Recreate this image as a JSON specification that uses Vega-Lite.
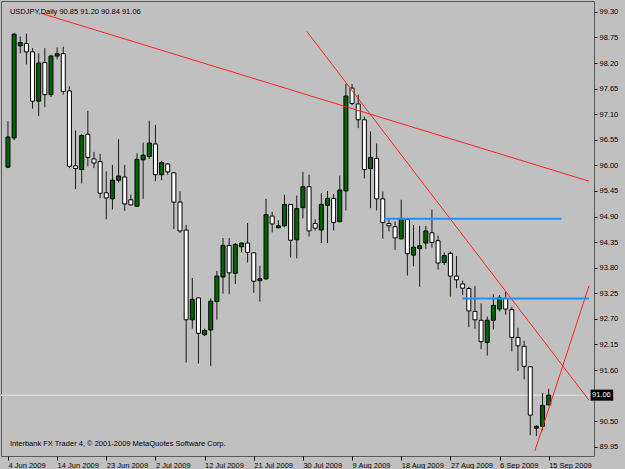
{
  "$schema": "https://vega.github.io/schema/vega-lite/v6.json",
  "width": 593,
  "height": 455,
  "autosize": {"type": "none"},
  "padding": {"left": 1, "top": 1, "right": 31, "bottom": 13},
  "background": "#C0C0C0",
  "config": {
    "view": {"stroke": "#5A5A5A", "strokeWidth": 1},
    "axis": {"labelFont": "Liberation Sans", "labelFontSize": 7.5, "labelColor": "#000000", "tickColor": "#000000", "domain": false, "grid": false, "title": null, "labelOverlap": false}
  },
  "datasets": {
    "candles": [
      {"i": 0, "date": "2009-06-04", "open": 95.96, "high": 96.95, "low": 95.94, "close": 96.61},
      {"i": 1, "date": "2009-06-05", "open": 96.59, "high": 98.85, "low": 96.54, "close": 98.82},
      {"i": 2, "date": "2009-06-07", "open": 98.57, "high": 98.77, "low": 98.41, "close": 98.64},
      {"i": 3, "date": "2009-06-08", "open": 98.62, "high": 98.83, "low": 98.17, "close": 98.44},
      {"i": 4, "date": "2009-06-09", "open": 98.44, "high": 98.52, "low": 97.22, "close": 97.38},
      {"i": 5, "date": "2009-06-10", "open": 97.38, "high": 98.41, "low": 97.06, "close": 98.20},
      {"i": 6, "date": "2009-06-11", "open": 98.21, "high": 98.52, "low": 97.25, "close": 97.52},
      {"i": 7, "date": "2009-06-12", "open": 97.52, "high": 98.38, "low": 97.47, "close": 98.35},
      {"i": 8, "date": "2009-06-14", "open": 98.35, "high": 98.54, "low": 98.28, "close": 98.40},
      {"i": 9, "date": "2009-06-15", "open": 98.40, "high": 98.55, "low": 97.52, "close": 97.59},
      {"i": 10, "date": "2009-06-16", "open": 97.60, "high": 97.70, "low": 95.94, "close": 95.98},
      {"i": 11, "date": "2009-06-17", "open": 95.99, "high": 96.75, "low": 95.49, "close": 95.93},
      {"i": 12, "date": "2009-06-18", "open": 95.91, "high": 96.67, "low": 95.61, "close": 96.64},
      {"i": 13, "date": "2009-06-19", "open": 96.67, "high": 97.17, "low": 95.98, "close": 96.17},
      {"i": 14, "date": "2009-06-21", "open": 96.14, "high": 96.29, "low": 95.94, "close": 96.05},
      {"i": 15, "date": "2009-06-22", "open": 96.08, "high": 96.25, "low": 95.30, "close": 95.40},
      {"i": 16, "date": "2009-06-23", "open": 95.41, "high": 95.87, "low": 94.84, "close": 95.30},
      {"i": 17, "date": "2009-06-24", "open": 95.28, "high": 96.01, "low": 95.05, "close": 95.68},
      {"i": 18, "date": "2009-06-25", "open": 95.68, "high": 96.56, "low": 95.63, "close": 95.77},
      {"i": 19, "date": "2009-06-26", "open": 95.75, "high": 96.01, "low": 95.02, "close": 95.17},
      {"i": 20, "date": "2009-06-28", "open": 95.26, "high": 95.37, "low": 95.14, "close": 95.15},
      {"i": 21, "date": "2009-06-29", "open": 95.12, "high": 96.26, "low": 95.11, "close": 96.13},
      {"i": 22, "date": "2009-06-30", "open": 96.12, "high": 96.49, "low": 95.28, "close": 96.22},
      {"i": 23, "date": "2009-07-01", "open": 96.19, "high": 96.96, "low": 96.14, "close": 96.48},
      {"i": 24, "date": "2009-07-02", "open": 96.46, "high": 96.87, "low": 95.66, "close": 95.80},
      {"i": 25, "date": "2009-07-03", "open": 95.80, "high": 96.10, "low": 95.68, "close": 96.06},
      {"i": 26, "date": "2009-07-05", "open": 96.03, "high": 96.05, "low": 95.80, "close": 95.86},
      {"i": 27, "date": "2009-07-06", "open": 95.84, "high": 95.85, "low": 94.63, "close": 95.21},
      {"i": 28, "date": "2009-07-07", "open": 95.21, "high": 95.44, "low": 94.55, "close": 94.59},
      {"i": 29, "date": "2009-07-08", "open": 94.61, "high": 94.72, "low": 91.76, "close": 92.68},
      {"i": 30, "date": "2009-07-09", "open": 92.68, "high": 93.58, "low": 92.49, "close": 93.12},
      {"i": 31, "date": "2009-07-10", "open": 93.15, "high": 93.16, "low": 91.74, "close": 92.39},
      {"i": 32, "date": "2009-07-12", "open": 92.36, "high": 92.49, "low": 92.33, "close": 92.45},
      {"i": 33, "date": "2009-07-13", "open": 92.46, "high": 93.14, "low": 91.69, "close": 93.08},
      {"i": 34, "date": "2009-07-14", "open": 93.07, "high": 93.73, "low": 92.68, "close": 93.62},
      {"i": 35, "date": "2009-07-15", "open": 93.60, "high": 94.44, "low": 93.24, "close": 94.28},
      {"i": 36, "date": "2009-07-16", "open": 94.28, "high": 94.44, "low": 93.23, "close": 93.69},
      {"i": 37, "date": "2009-07-17", "open": 93.68, "high": 94.33, "low": 93.45, "close": 94.30},
      {"i": 38, "date": "2009-07-19", "open": 94.25, "high": 94.34, "low": 94.13, "close": 94.33},
      {"i": 39, "date": "2009-07-20", "open": 94.33, "high": 94.76, "low": 93.91, "close": 94.13},
      {"i": 40, "date": "2009-07-21", "open": 94.12, "high": 94.13, "low": 93.26, "close": 93.51},
      {"i": 41, "date": "2009-07-22", "open": 93.52, "high": 93.84, "low": 93.07, "close": 93.56},
      {"i": 42, "date": "2009-07-23", "open": 93.56, "high": 95.28, "low": 93.54, "close": 94.94},
      {"i": 43, "date": "2009-07-24", "open": 94.91, "high": 95.00, "low": 94.56, "close": 94.74},
      {"i": 44, "date": "2009-07-26", "open": 94.66, "high": 94.82, "low": 94.64, "close": 94.70},
      {"i": 45, "date": "2009-07-27", "open": 94.70, "high": 95.37, "low": 94.68, "close": 95.16},
      {"i": 46, "date": "2009-07-28", "open": 95.16, "high": 95.17, "low": 94.02, "close": 94.39},
      {"i": 47, "date": "2009-07-29", "open": 94.40, "high": 95.35, "low": 94.00, "close": 95.07},
      {"i": 48, "date": "2009-07-30", "open": 95.09, "high": 95.86, "low": 94.86, "close": 95.54},
      {"i": 49, "date": "2009-07-31", "open": 95.54, "high": 95.80, "low": 94.47, "close": 94.59},
      {"i": 50, "date": "2009-08-02", "open": 94.75, "high": 94.84, "low": 94.60, "close": 94.65},
      {"i": 51, "date": "2009-08-03", "open": 94.61, "high": 95.40, "low": 94.33, "close": 95.16},
      {"i": 52, "date": "2009-08-04", "open": 95.14, "high": 95.45, "low": 94.33, "close": 95.29},
      {"i": 53, "date": "2009-08-05", "open": 95.29, "high": 95.38, "low": 94.60, "close": 94.77},
      {"i": 54, "date": "2009-08-06", "open": 94.79, "high": 95.78, "low": 94.77, "close": 95.47},
      {"i": 55, "date": "2009-08-07", "open": 95.45, "high": 97.75, "low": 95.03, "close": 97.49},
      {"i": 56, "date": "2009-08-09", "open": 97.66, "high": 97.75, "low": 97.29, "close": 97.33},
      {"i": 57, "date": "2009-08-10", "open": 97.32, "high": 97.52, "low": 96.80, "close": 96.98},
      {"i": 58, "date": "2009-08-11", "open": 96.98, "high": 97.05, "low": 95.72, "close": 95.91},
      {"i": 59, "date": "2009-08-12", "open": 95.93, "high": 96.73, "low": 95.08, "close": 96.17},
      {"i": 60, "date": "2009-08-13", "open": 96.15, "high": 96.47, "low": 95.03, "close": 95.28},
      {"i": 61, "date": "2009-08-14", "open": 95.28, "high": 95.44, "low": 94.42, "close": 94.77},
      {"i": 62, "date": "2009-08-16", "open": 94.75, "high": 94.84, "low": 94.58, "close": 94.70},
      {"i": 63, "date": "2009-08-17", "open": 94.68, "high": 94.79, "low": 94.18, "close": 94.44},
      {"i": 64, "date": "2009-08-18", "open": 94.42, "high": 95.26, "low": 94.41, "close": 94.86},
      {"i": 65, "date": "2009-08-19", "open": 94.84, "high": 94.85, "low": 93.63, "close": 94.10},
      {"i": 66, "date": "2009-08-20", "open": 94.07, "high": 94.72, "low": 93.83, "close": 94.24},
      {"i": 67, "date": "2009-08-21", "open": 94.21, "high": 94.70, "low": 93.39, "close": 94.27},
      {"i": 68, "date": "2009-08-23", "open": 94.33, "high": 94.70, "low": 94.21, "close": 94.59},
      {"i": 69, "date": "2009-08-24", "open": 94.55, "high": 95.05, "low": 94.23, "close": 94.34},
      {"i": 70, "date": "2009-08-25", "open": 94.38, "high": 94.49, "low": 93.76, "close": 93.90},
      {"i": 71, "date": "2009-08-26", "open": 93.91, "high": 94.13, "low": 93.86, "close": 94.06},
      {"i": 72, "date": "2009-08-27", "open": 94.11, "high": 94.15, "low": 93.18, "close": 93.62},
      {"i": 73, "date": "2009-08-28", "open": 93.62, "high": 94.05, "low": 93.36, "close": 93.54},
      {"i": 74, "date": "2009-08-30", "open": 93.45, "high": 93.52, "low": 93.21, "close": 93.36},
      {"i": 75, "date": "2009-08-31", "open": 93.35, "high": 93.39, "low": 92.52, "close": 92.87},
      {"i": 76, "date": "2009-09-01", "open": 92.86, "high": 93.41, "low": 92.49, "close": 92.68},
      {"i": 77, "date": "2009-09-02", "open": 92.67, "high": 93.03, "low": 92.05, "close": 92.21},
      {"i": 78, "date": "2009-09-03", "open": 92.19, "high": 92.75, "low": 91.91, "close": 92.67},
      {"i": 79, "date": "2009-09-04", "open": 92.67, "high": 93.23, "low": 92.47, "close": 92.99},
      {"i": 80, "date": "2009-09-06", "open": 92.91, "high": 93.21, "low": 92.86, "close": 93.15},
      {"i": 81, "date": "2009-09-07", "open": 93.14, "high": 93.28, "low": 92.79, "close": 92.91},
      {"i": 82, "date": "2009-09-08", "open": 92.90, "high": 92.96, "low": 92.00, "close": 92.30},
      {"i": 83, "date": "2009-09-09", "open": 92.30, "high": 92.51, "low": 91.58, "close": 92.12},
      {"i": 84, "date": "2009-09-10", "open": 92.11, "high": 92.23, "low": 91.40, "close": 91.68},
      {"i": 85, "date": "2009-09-11", "open": 91.67, "high": 91.68, "low": 90.20, "close": 90.63},
      {"i": 86, "date": "2009-09-13", "open": 90.35, "high": 90.41, "low": 90.18, "close": 90.39},
      {"i": 87, "date": "2009-09-14", "open": 90.39, "high": 91.11, "low": 90.30, "close": 90.84},
      {"i": 88, "date": "2009-09-15", "open": 90.85, "high": 91.20, "low": 90.84, "close": 91.06}
    ],
    "trendlines": [
      {"id": "t1", "i": 5.6, "p": 99.26},
      {"id": "t1", "i": 94.56, "p": 95.66},
      {"id": "t2", "i": 48.64, "p": 98.88},
      {"id": "t2", "i": 94.56, "p": 90.95},
      {"id": "t3", "i": 85.75, "p": 89.86},
      {"id": "t3", "i": 94.56, "p": 93.41}
    ],
    "levels": [
      {"id": "h1", "i": 61.23, "p": 94.85},
      {"id": "h1", "i": 90.08, "p": 94.85},
      {"id": "h2", "i": 73.92, "p": 93.14},
      {"id": "h2", "i": 94.56, "p": 93.14}
    ]
  },
  "layer": [
    {
      "data": {"values": [{"bid": 91.06}]},
      "mark": {"type": "rule", "color": "#D8D8D8", "strokeWidth": 1.5},
      "encoding": {
        "y": {"field": "bid", "type": "quantitative", "scale": {"domain": [89.859, 99.426], "nice": false, "zero": false}}
      }
    },
    {
      "data": {"name": "candles"},
      "mark": {"type": "rule", "color": "#1A1A1A", "strokeWidth": 1},
      "encoding": {
        "x": {"field": "i", "type": "quantitative", "scale": {"domain": [-0.32, 94.56], "nice": false, "zero": false},
          "axis": {"orient": "bottom", "values": [0, 8, 16, 24, 32, 40, 48, 56, 64, 72, 80, 88], "tickCount": 40, "labelAlign": "left", "tickSize": 4, "labelPadding": 1, "labelOverlap": false, "labelBound": false,
            "labelExpr": "['4 Jun 2009','14 Jun 2009','23 Jun 2009','2 Jul 2009','12 Jul 2009','21 Jul 2009','30 Jul 2009','9 Aug 2009','18 Aug 2009','27 Aug 2009','6 Sep 2009','15 Sep 2009'][round(datum.value / 8)]"}},
        "y": {"field": "low", "type": "quantitative", "scale": {"domain": [89.859, 99.426], "nice": false, "zero": false},
          "axis": {"orient": "right", "values": [99.30, 98.75, 98.20, 97.65, 97.10, 96.55, 96.00, 95.45, 94.90, 94.35, 93.80, 93.25, 92.70, 92.15, 91.60, 90.50, 89.95], "tickCount": 40, "format": ".2f", "tickSize": 3, "labelPadding": 2, "labelOverlap": false, "labelBound": false, "labelFlush": false}},
        "y2": {"field": "high"}
      }
    },
    {
      "data": {"name": "candles"},
      "mark": {"type": "bar", "width": 4, "stroke": "#000000", "strokeWidth": 1},
      "encoding": {
        "x": {"field": "i", "type": "quantitative", "scale": {"domain": [-0.32, 94.56], "nice": false, "zero": false}},
        "y": {"field": "open", "type": "quantitative", "scale": {"domain": [89.859, 99.426], "nice": false, "zero": false}},
        "y2": {"field": "close"},
        "fill": {"condition": {"test": "datum.close >= datum.open", "value": "#006400"}, "value": "#FFFFFF"}
      }
    },
    {
      "data": {"name": "trendlines"},
      "mark": {"type": "line", "color": "#FF2020", "strokeWidth": 1, "clip": true},
      "encoding": {
        "x": {"field": "i", "type": "quantitative", "scale": {"domain": [-0.32, 94.56], "nice": false, "zero": false}},
        "y": {"field": "p", "type": "quantitative", "scale": {"domain": [89.859, 99.426], "nice": false, "zero": false}},
        "detail": {"field": "id"}
      }
    },
    {
      "data": {"name": "levels"},
      "mark": {"type": "line", "color": "#1E90FF", "strokeWidth": 2, "clip": true},
      "encoding": {
        "x": {"field": "i", "type": "quantitative", "scale": {"domain": [-0.32, 94.56], "nice": false, "zero": false}},
        "y": {"field": "p", "type": "quantitative", "scale": {"domain": [89.859, 99.426], "nice": false, "zero": false}},
        "detail": {"field": "id"}
      }
    },
    {
      "data": {"values": [{"bid": 91.06}]},
      "mark": {"type": "bar", "height": 11, "color": "#000000", "clip": false, "orient": "horizontal"},
      "encoding": {
        "x": {"datum": 94.82, "type": "quantitative", "scale": {"domain": [-0.32, 94.56], "nice": false, "zero": false}},
        "x2": {"datum": 98.5},
        "y": {"field": "bid", "type": "quantitative", "scale": {"domain": [89.859, 99.426], "nice": false, "zero": false}}
      }
    },
    {
      "data": {"values": [{"bid": 91.06}]},
      "mark": {"type": "text", "color": "#FFFFFF", "font": "Liberation Sans", "fontSize": 7.5, "align": "left", "baseline": "middle", "clip": false},
      "encoding": {
        "x": {"datum": 95.05, "type": "quantitative", "scale": {"domain": [-0.32, 94.56], "nice": false, "zero": false}},
        "y": {"field": "bid", "type": "quantitative", "scale": {"domain": [89.859, 99.426], "nice": false, "zero": false}},
        "text": {"field": "bid", "type": "quantitative", "format": ".2f"}
      }
    },
    {
      "data": {"values": [{"label": "USDJPY,Daily  90.85 91.20 90.84 91.06"}]},
      "mark": {"type": "text", "color": "#000000", "font": "Liberation Sans", "fontSize": 7.5, "align": "left", "baseline": "middle"},
      "encoding": {
        "x": {"datum": 0.32, "type": "quantitative", "scale": {"domain": [-0.32, 94.56], "nice": false, "zero": false}},
        "y": {"datum": 99.29, "type": "quantitative", "scale": {"domain": [89.859, 99.426], "nice": false, "zero": false}},
        "text": {"field": "label"}
      }
    },
    {
      "data": {"values": [{"label": "Interbank FX Trader 4, © 2001-2009 MetaQuotes Software Corp."}]},
      "mark": {"type": "text", "color": "#000000", "font": "Liberation Sans", "fontSize": 7.5, "align": "left", "baseline": "middle"},
      "encoding": {
        "x": {"datum": 0.32, "type": "quantitative", "scale": {"domain": [-0.32, 94.56], "nice": false, "zero": false}},
        "y": {"datum": 90.0, "type": "quantitative", "scale": {"domain": [89.859, 99.426], "nice": false, "zero": false}},
        "text": {"field": "label"}
      }
    }
  ]
}
